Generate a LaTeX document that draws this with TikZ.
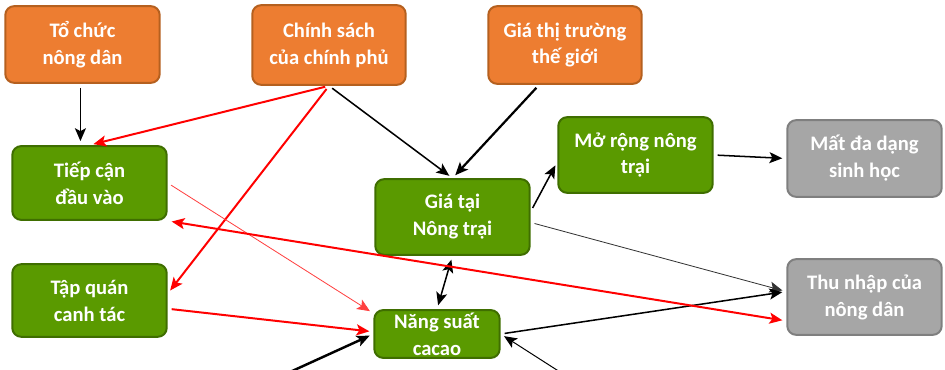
\documentclass[tikz,border=0pt]{standalone}
\usepackage{fontspec}
\setmainfont{Carlito}
\usetikzlibrary{arrows.meta,calc}
\definecolor{orfill}{HTML}{ED7D31}
\definecolor{ordraw}{HTML}{B5601F}
\definecolor{grfill}{HTML}{5A9A00}
\definecolor{grdraw}{HTML}{3F6E00}
\definecolor{gyfill}{HTML}{A6A6A6}
\definecolor{gydraw}{HTML}{7F7F7F}
\definecolor{arred}{HTML}{FF0000}
\begin{document}
\begin{tikzpicture}[x=0.03cm,y=-0.03cm,
  box/.style={rounded corners=7.6pt, line width=1.7pt, text=white, align=center,
    font=\fontsize{17.6pt}{23pt}\selectfont\bfseries, inner sep=0pt,
    minimum width=131.8pt},
  obox/.style={box, fill=orfill, draw=ordraw},
  gbox/.style={box, fill=grfill, draw=grdraw},
  ybox/.style={box, fill=gyfill, draw=gydraw},
  tip/.style={-{Stealth[length=11pt,width=9.4pt,inset=2.5pt]}},
  btip/.style={{Stealth[length=11pt,width=9.4pt,inset=2.5pt]}-{Stealth[length=11pt,width=9.4pt,inset=2.5pt]}},
  blk/.style={tip, line width=1.3pt, black, shorten <=3.4pt, shorten >=3.4pt},
  red/.style={tip, line width=1.7pt, arred, shorten <=3.4pt, shorten >=3.4pt},
]
\useasboundingbox (0,0) rectangle (945,370);
\node[obox, minimum height=65.5pt] (tochuc) at (82.5,44.5) {Tổ chức\\nông dân};
\node[obox, minimum height=68pt, minimum width=131pt] (chinhsach) at (329,45) {Chính sách\\của chính phủ};
\node[obox, minimum height=66.3pt, minimum width=131pt] (giatg) at (565,45) {Giá thị trường\\thế giới};
\node[gbox, minimum height=63pt] (tiepcan) at (89.5,183) {Tiếp cận\\đầu vào};
\node[gbox, minimum height=62pt] (tapquan) at (89.5,300.5) {Tập quán\\canh tác};
\node[gbox, minimum height=64.6pt] (giatai) at (452.5,217) {Giá tại\\Nông trại};
\node[gbox, minimum height=64.6pt] (morong) at (635.5,155) {Mở rộng nông\\trại};
\node[ybox, minimum height=65.5pt] (matda) at (864.5,158.5) {Mất đa dạng\\sinh học};
\node[ybox, minimum height=64.6pt] (thunhap) at (864.5,297) {Thu nhập của\\nông dân};
\node[gbox, minimum height=40.8pt, minimum width=107pt] (nangsuat) at (437,334) {Năng suất\\cacao};
\coordinate (srcA) at (290,372);
\coordinate (srcB) at (560,372);
% connectors
\draw[blk] (tochuc.-93) -- (tochuc.-93 |- tiepcan.north);
\draw[red] (chinhsach.south) -- (tiepcan.north);
\draw[red] (chinhsach.south) -- (tapquan.5);
\draw[blk] (chinhsach.south) -- (giatai.north);
\draw[blk, line width=1.9pt] (giatg.237) -- (giatai.north);
\draw[red, line width=0.7pt, arred!75] (tiepcan.east) -- (nangsuat.162);
\draw[red] (tapquan.-6) -- (nangsuat.178);
\draw[blk, line width=2.1pt, shorten <=0pt] (srcA) -- (nangsuat.west);
\draw[blk, line width=0.85pt, shorten <=0pt] (srcB) -- (nangsuat.east);
\draw[blk, btip] (giatai.south) -- (nangsuat.north);
\draw[blk] (giatai.4) -- (morong.185);
\draw[blk] (morong.east) -- (matda.west);
\draw[blk, line width=0.7pt, black!80] (giatai.-4) -- (thunhap.176);
\draw[blk, line width=1.3pt] (nangsuat.east) -- (thunhap.176);
\draw[red, btip] (tiepcan.south east) -- (thunhap.197);
\end{tikzpicture}
\end{document}
